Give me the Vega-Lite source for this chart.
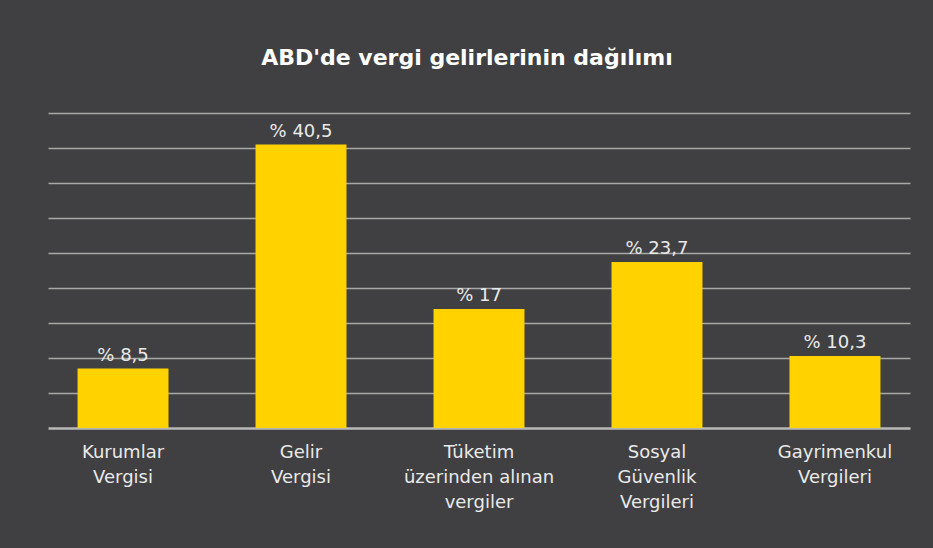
{
  "$schema": "https://vega.github.io/schema/vega-lite/v6.json",
  "autosize": {"type": "none"},
  "width": 862,
  "height": 315,
  "padding": {"left": 48, "top": 113, "right": 23, "bottom": 120},
  "background": "#404042",
  "title": {
    "text": "ABD'de vergi gelirlerinin dağılımı",
    "font": "DejaVu Sans",
    "fontSize": 22,
    "fontWeight": "bold",
    "color": "#ffffff",
    "anchor": "middle",
    "offset": 43,
    "dx": -12
  },
  "data": {
    "values": [
      {"kategori": "Kurumlar\nVergisi", "oran": 8.5, "etiket": "% 8,5"},
      {"kategori": "Gelir\nVergisi", "oran": 40.5, "etiket": "% 40,5"},
      {"kategori": "Tüketim\nüzerinden alınan\nvergiler", "oran": 17, "etiket": "% 17"},
      {"kategori": "Sosyal\nGüvenlik\nVergileri", "oran": 23.7, "etiket": "% 23,7"},
      {"kategori": "Gayrimenkul\nVergileri", "oran": 10.3, "etiket": "% 10,3"}
    ]
  },
  "config": {
    "view": {"stroke": null},
    "font": "DejaVu Sans"
  },
  "encoding": {
    "x": {
      "field": "kategori",
      "type": "nominal",
      "sort": null,
      "scale": {"paddingInner": 0.489, "paddingOuter": 0.166},
      "axis": {
        "title": null,
        "labelAngle": 0,
        "labelExpr": "split(datum.label, '\\n')",
        "labelFont": "DejaVu Sans",
        "labelFontSize": 18,
        "labelColor": "#eaeaea",
        "labelLineHeight": 25,
        "labelPadding": 15,
        "ticks": false,
        "domainColor": "#b8b8b8",
        "domainWidth": 2.5,
        "labelLimit": 300
      }
    },
    "y": {
      "field": "oran",
      "type": "quantitative",
      "scale": {"domain": [0, 45]},
      "axis": {
        "title": null,
        "labels": false,
        "ticks": false,
        "domain": false,
        "values": [5, 10, 15, 20, 25, 30, 35, 40, 45],
        "gridColor": "#a8a8a8",
        "gridWidth": 1.5,
        "gridOpacity": 1
      }
    }
  },
  "layer": [
    {"mark": {"type": "bar", "color": "#FFD200"}},
    {
      "mark": {"type": "text", "baseline": "alphabetic", "dy": -8, "fontSize": 18, "color": "#eaeaea", "font": "DejaVu Sans"},
      "encoding": {"text": {"field": "etiket"}}
    }
  ]
}
